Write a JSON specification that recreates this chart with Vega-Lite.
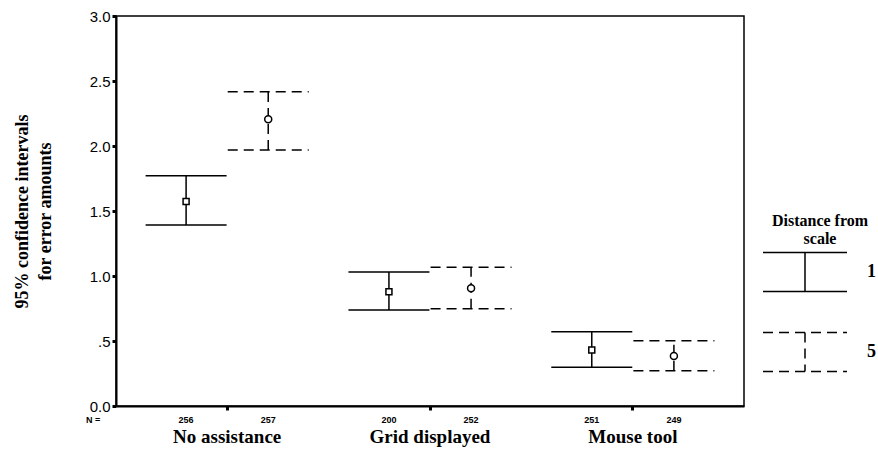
{
  "$schema": "https://vega.github.io/schema/vega-lite/v6.json",
  "width": 628,
  "height": 390,
  "autosize": "none",
  "padding": {"left": 116, "top": 16, "right": 134, "bottom": 50},
  "background": "white",
  "config": {
    "view": {"stroke": "black", "strokeWidth": 1.5},
    "axis": {"domainColor": "black", "domainWidth": 2, "tickColor": "black", "labelColor": "black", "titleColor": "black", "grid": false}
  },
  "data": {
    "values": [
      {"cond": "No assistance", "dist": "1", "n": 256, "mean": 1.573, "lower": 1.392, "upper": 1.772},
      {"cond": "No assistance", "dist": "5", "n": 257, "mean": 2.205, "lower": 1.969, "upper": 2.418},
      {"cond": "Grid displayed", "dist": "1", "n": 200, "mean": 0.879, "lower": 0.738, "upper": 1.031},
      {"cond": "Grid displayed", "dist": "5", "n": 252, "mean": 0.905, "lower": 0.748, "upper": 1.067},
      {"cond": "Mouse tool", "dist": "1", "n": 251, "mean": 0.431, "lower": 0.298, "upper": 0.572},
      {"cond": "Mouse tool", "dist": "5", "n": 249, "mean": 0.385, "lower": 0.272, "upper": 0.502}
    ]
  },
  "encoding": {
    "x": {
      "field": "cond",
      "type": "nominal",
      "sort": ["No assistance", "Grid displayed", "Mouse tool"],
      "scale": {"paddingInner": 0, "paddingOuter": 0.048},
      "axis": {
        "title": null,
        "labelAngle": 0,
        "labelFont": "Liberation Serif",
        "labelFontWeight": "bold",
        "labelFontSize": 19,
        "labelPadding": 17,
        "tickSize": 4,
        "tickWidth": 3
      }
    },
    "xOffset": {
      "field": "dist",
      "type": "nominal",
      "scale": {"paddingInner": 0, "paddingOuter": 0.235}
    }
  },
  "layer": [
    {
      "mark": {"type": "rule", "color": "black", "strokeWidth": 1.5},
      "encoding": {
        "y": {
          "field": "lower",
          "type": "quantitative",
          "scale": {"domain": [0, 3], "nice": false, "zero": false},
          "axis": {
            "values": [0, 0.5, 1, 1.5, 2, 2.5, 3],
            "labelExpr": "datum.value == 0.5 ? '.5' : format(datum.value, '.1f')",
            "labelFont": "Liberation Sans",
            "labelFontSize": 15,
            "labelPadding": 2,
            "labelFlush": false,
            "tickSize": 4,
            "tickWidth": 3,
            "title": ["95% confidence intervals", "for error amounts"],
            "titleFont": "Liberation Serif",
            "titleFontWeight": "bold",
            "titleFontSize": 18,
            "titleLineHeight": 23,
            "titlePadding": 35
          }
        },
        "y2": {"field": "upper"},
        "strokeDash": {
          "field": "dist",
          "type": "nominal",
          "scale": {"domain": ["1", "5"], "range": [[1, 0], [10, 6]]},
          "legend": {
            "title": ["Distance from", "scale"],
            "orient": "none",
            "legendX": 648,
            "legendY": 197,
            "titleFont": "Liberation Serif",
            "titleFontWeight": "bold",
            "titleFontSize": 16,
            "titleLineHeight": 18,
            "titleAnchor": "middle",
            "titleAlign": "center",
            "titlePadding": -16,
            "titleColor": "black",
            "symbolType": "M-1.05,-0.49H1.05M0,-0.49V0.49M-1.05,0.49H1.05",
            "symbolSize": 6400,
            "symbolStrokeWidth": 1.5,
            "symbolStrokeColor": "black",
            "symbolFillColor": "transparent",
            "labelFont": "Liberation Serif",
            "labelFontWeight": "bold",
            "labelFontSize": 18,
            "labelColor": "black",
            "labelOffset": 21,
            "rowPadding": 16
          }
        }
      }
    },
    {
      "mark": {"type": "point", "shape": "M-1,0H1", "filled": false, "size": 6561, "color": "black", "strokeWidth": 1.5, "opacity": 1},
      "encoding": {
        "y": {"field": "upper", "type": "quantitative"},
        "strokeDash": {"field": "dist", "type": "nominal"}
      }
    },
    {
      "mark": {"type": "point", "shape": "M-1,0H1", "filled": false, "size": 6561, "color": "black", "strokeWidth": 1.5, "opacity": 1},
      "encoding": {
        "y": {"field": "lower", "type": "quantitative"},
        "strokeDash": {"field": "dist", "type": "nominal"}
      }
    },
    {
      "transform": [{"filter": "datum.dist == '1'"}],
      "mark": {"type": "point", "shape": "square", "size": 36, "filled": false, "fill": "white", "stroke": "black", "strokeWidth": 1.5, "opacity": 1},
      "encoding": {
        "y": {"field": "mean", "type": "quantitative"}
      }
    },
    {
      "transform": [{"filter": "datum.dist == '5'"}],
      "mark": {"type": "point", "shape": "circle", "size": 49, "filled": false, "fill": "white", "stroke": "black", "strokeWidth": 1.5, "opacity": 1},
      "encoding": {
        "y": {"field": "mean", "type": "quantitative"}
      }
    },
    {
      "mark": {"type": "text", "font": "Liberation Sans", "fontWeight": "bold", "fontSize": 9, "dy": 14, "color": "black", "baseline": "middle"},
      "encoding": {
        "y": {"datum": 0, "type": "quantitative"},
        "text": {"field": "n", "type": "quantitative"}
      }
    },
    {
      "data": {"values": [{"label": "N ="}]},
      "mark": {"type": "text", "font": "Liberation Sans", "fontWeight": "bold", "fontSize": 9, "dy": 14, "dx": -93, "color": "black", "baseline": "middle"},
      "encoding": {
        "x": {"datum": "No assistance", "type": "nominal"},
        "xOffset": {"datum": "1", "type": "nominal"},
        "y": {"datum": 0, "type": "quantitative"},
        "text": {"field": "label", "type": "nominal"}
      }
    }
  ]
}
